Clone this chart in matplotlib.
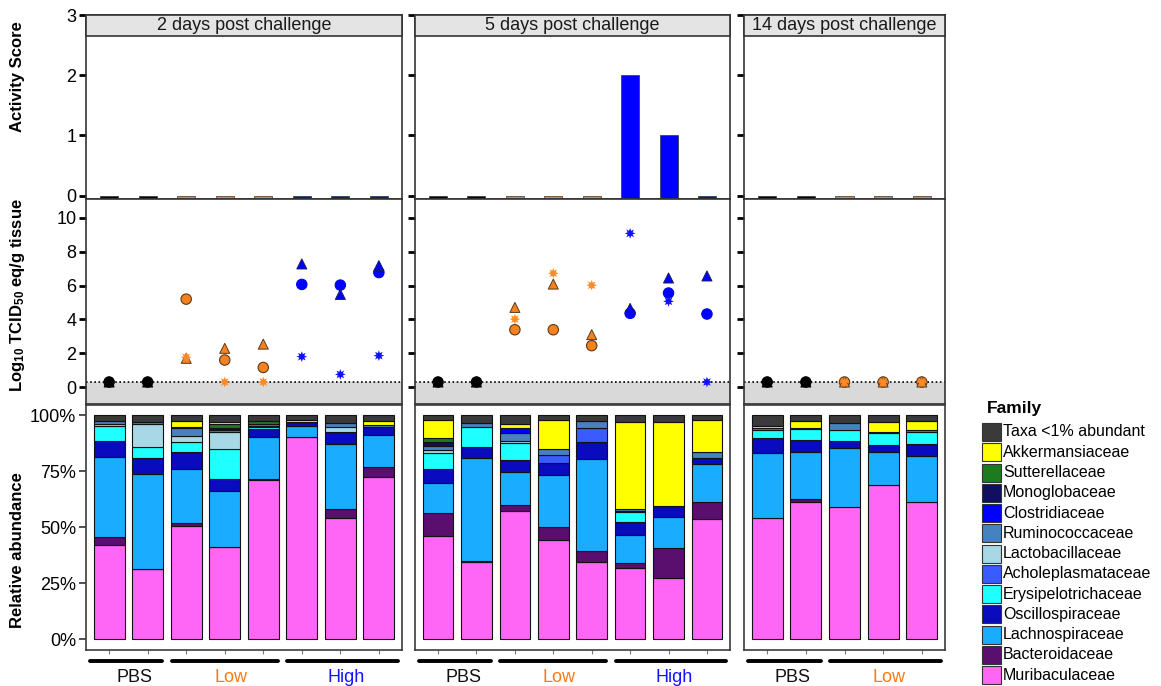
import matplotlib.pyplot as plt
import matplotlib.transforms as mtransforms
from matplotlib.patches import Rectangle
import numpy as np

plt.rcParams['font.family'] = ['Liberation Sans', 'DejaVu Sans']
plt.rcParams['mathtext.default'] = 'regular'

W, H = 1161, 686

# ---------------- data ----------------
day_titles = ['2 days post challenge', '5 days post challenge', '14 days post challenge']
groups_d2 = ['PBS', 'PBS', 'Low', 'Low', 'Low', 'High', 'High', 'High']
groups_d5 = ['PBS', 'PBS', 'Low', 'Low', 'Low', 'High', 'High', 'High']
groups_d14 = ['PBS', 'PBS', 'Low', 'Low', 'Low']

# activity score
score_d2 = [0, 0, 0, 0, 0, 0, 0, 0]
score_d5 = [0, 0, 0, 0, 0, 2, 1, 0]
score_d14 = [0, 0, 0, 0, 0]

# log10 TCID50 eq/g tissue, one list per tissue (marker)
lod = 0.3
circle_d2 = [0.3, 0.3, 5.2, 1.6, 1.16, 6.07, 6.03, 6.77]
triangle_d2 = [0.3, 0.3, 1.7, 2.29, 2.54, 7.28, 5.48, 7.18]
star_d2 = [0.3, 0.3, 1.76, 0.3, 0.3, 1.8, 0.75, 1.86]
circle_d5 = [0.3, 0.3, 3.39, 3.39, 2.45, 4.36, 5.56, 4.32]
triangle_d5 = [0.3, 0.3, 4.71, 6.09, 3.1, 4.65, 6.45, 6.57]
star_d5 = [0.3, 0.3, 4.02, 6.73, 6.02, 9.09, 5.07, 0.3]
circle_d14 = [0.3, 0.3, 0.3, 0.3, 0.3]
triangle_d14 = [0.3, 0.3, 0.3, 0.3, 0.3]
star_d14 = [0.3, 0.3, 0.3, 0.3, 0.3]

# relative abundance (%), rows bottom -> top of the stack
families = ['Muribaculaceae', 'Bacteroidaceae', 'Lachnospiraceae', 'Oscillospiraceae',
            'Erysipelotrichaceae', 'Acholeplasmataceae', 'Lactobacillaceae',
            'Ruminococcaceae', 'Clostridiaceae', 'Monoglobaceae', 'Sutterellaceae',
            'Akkermansiaceae', 'Taxa <1% abundant']
fam_colors = ['#FF66F5', '#5A0E6E', '#1AADFF', '#0A0ABE', '#20FFFF', '#3A5BFF',
              '#A8D8E6', '#4682C0', '#0000FF', '#10105E', '#1E7A1E', '#FFFF00', '#3A3A3A']

abund_d2 = np.array([
    [42.0, 31.1, 50.4, 40.9, 71.0, 90.0, 53.9, 72.5],
    [3.7, 0.3, 1.5, 0.3, 0.3, 0.3, 4.0, 4.4],
    [35.7, 42.3, 24.0, 24.9, 18.7, 4.9, 29.0, 14.2],
    [7.0, 7.2, 7.4, 5.2, 3.7, 1.5, 5.6, 3.5],
    [6.8, 4.7, 4.5, 13.4, 0.9, 0, 0, 0],
    [0, 0, 0, 0, 0, 0, 0, 0],
    [1.0, 10.2, 3.0, 7.6, 0.6, 0, 2.1, 0],
    [1.2, 1.3, 3.5, 1.0, 0.6, 0, 1.8, 1.0],
    [0, 0, 0, 0, 0, 0, 0, 0],
    [0, 0, 0, 0.8, 0, 0, 0, 0],
    [0, 0, 0.5, 1.8, 1.5, 0, 0, 0],
    [0, 0, 2.5, 1.0, 0, 1.0, 0, 1.6],
    [2.6, 2.9, 2.7, 3.1, 2.7, 2.3, 3.6, 2.8],
])
abund_d5 = np.array([
    [46.0, 34.5, 57.1, 44.2, 34.2, 31.8, 27.4, 53.4],
    [10.4, 0.3, 2.7, 5.9, 5.1, 2.0, 13.1, 7.9],
    [13.4, 45.9, 14.6, 23.1, 41.1, 12.6, 14.1, 16.7],
    [6.1, 5.1, 5.4, 5.5, 7.4, 5.7, 4.9, 2.7],
    [7.0, 9.0, 7.6, 0, 0, 4.5, 0, 0],
    [0, 0, 0, 3.4, 6.3, 0, 0, 0],
    [1.5, 0, 1.0, 0, 0, 0.5, 0, 0],
    [1.9, 1.5, 3.5, 2.6, 3.2, 0.8, 0, 2.6],
    [0, 0, 2.4, 0, 0, 0, 0, 0],
    [1.5, 0, 0, 0, 0, 0, 0, 0],
    [2.1, 0, 0, 0, 0, 0, 0, 0],
    [7.9, 0, 1.8, 13.1, 0, 38.8, 37.2, 14.5],
    [2.2, 3.7, 3.9, 2.2, 2.7, 3.3, 3.3, 2.2],
])
abund_d14 = np.array([
    [53.9, 61.0, 59.1, 68.7, 61.3],
    [0, 1.5, 0, 0, 0],
    [29.3, 20.8, 26.3, 14.6, 20.4],
    [6.4, 5.5, 3.0, 3.3, 5.4],
    [3.7, 4.8, 4.9, 5.2, 5.4],
    [0, 0, 0, 0, 0],
    [0, 0, 0, 0, 0],
    [1.0, 0.8, 3.3, 0.8, 1.0],
    [0, 0, 0, 0, 0],
    [0, 0, 0, 0, 0],
    [0, 0, 0, 0, 0],
    [1.0, 2.8, 0, 4.4, 3.7],
    [4.7, 2.8, 3.4, 3.0, 2.8],
])

group_color = {'PBS': '#000000', 'Low': '#F5821F', 'High': '#0000FF'}
star_color = {'PBS': '#000000', 'Low': '#FF8A26', 'High': '#1010FF'}
label_color = {'PBS': '#111111', 'Low': '#FF7A12', 'High': '#1414FF'}


def rect(l, t, r, b):
    return [l / W, 1 - b / H, (r - l) / W, (b - t) / H]


cols = [(86, 402), (415, 730), (744, 945)]
rows = [(15, 199), (199, 404), (405, 650)]

fig = plt.figure(figsize=(W / 100, H / 100), dpi=100)

scores = [score_d2, score_d5, score_d14]
circles = [circle_d2, circle_d5, circle_d14]
triangles = [triangle_d2, triangle_d5, triangle_d14]
stars = [star_d2, star_d5, star_d14]
abunds = [abund_d2, abund_d5, abund_d14]
groups_all = [groups_d2, groups_d5, groups_d14]

floor = -0.055
for k in range(3):
    groups = groups_all[k]
    n = len(groups)
    x = np.arange(1, n + 1)
    cl = [group_color[g] for g in groups]
    l, r = cols[k]

    # ---- activity score ----
    ax = fig.add_axes(rect(l, rows[0][0], r, rows[0][1]))
    sc = np.array(scores[k], dtype=float)
    ax.bar(x, sc - floor, bottom=floor, width=0.47, color=cl, edgecolor='#333333',
           linewidth=0.5)
    ax.set_xlim(0.4, n + 0.6)
    ax.set_ylim(floor, 3)
    ax.set_yticks([0, 1, 2, 3])
    ax.set_xticks([])
    ax.tick_params(axis='y', length=5, width=2, color='black', labelsize=13, pad=2,
                   labelleft=(k == 0))
    for s in ax.spines.values():
        s.set_linewidth(1.2)
        s.set_color('#333333')
    sy = (rows[0][1] - 36) / (rows[0][1] - rows[0][0])
    ax.add_patch(Rectangle((0, sy), 1, 1 - sy, transform=ax.transAxes, facecolor='#E4E4E4',
                           edgecolor='#333333', linewidth=1.2, clip_on=False, zorder=3))
    ax.text(0.5, (sy + 1) / 2, day_titles[k], transform=ax.transAxes, ha='center', va='center',
            fontsize=13, color='#1a1a1a', zorder=4)

    # ---- viral load ----
    ax = fig.add_axes(rect(l, rows[1][0], r, rows[1][1]))
    ax.axhspan(-1, lod, color='#D9D9D9', zorder=0, linewidth=0)
    ax.axhline(lod, color='black', linestyle=(0, (1, 1.5)), linewidth=1.2, zorder=1)
    ax.scatter(x, circles[k], s=56, marker='o', c=cl,
               edgecolors=['#5a3a1a' if g == 'Low' else group_color[g] for g in groups],
               linewidths=0.8, zorder=3)
    ax.scatter(x, triangles[k], s=52, marker='^', c=cl,
               edgecolors=['#5a3a1a' if g == 'Low' else '#1a1a60' if g == 'High' else 'black'
                           for g in groups], linewidths=0.7, zorder=3)
    ax.scatter(x, stars[k], s=60, marker=(8, 1, 0), c=[star_color[g] for g in groups],
               linewidths=0, zorder=4)
    ax.set_xlim(0.4, n + 0.6)
    ax.set_ylim(-1, 11.12)
    ax.set_yticks([0, 2, 4, 6, 8, 10])
    ax.set_xticks([])
    ax.tick_params(axis='y', length=5, width=2, color='black', labelsize=13, pad=2,
                   labelleft=(k == 0))
    for s in ax.spines.values():
        s.set_linewidth(1.2)
        s.set_color('#333333')

    # ---- relative abundance ----
    ax = fig.add_axes(rect(l, rows[2][0], r, rows[2][1]))
    tab = abunds[k]
    cum = np.zeros(n)
    for fam, col, vals in zip(families, fam_colors, tab):
        m = vals > 0
        ax.bar(x[m], vals[m], bottom=cum[m], width=0.8, color=col, edgecolor='#111111',
               linewidth=0.8, label=fam)
        cum = cum + vals
    ax.set_xlim(0.4, n + 0.6)
    ax.set_ylim(-4.9, 104.5)
    ax.set_yticks([0, 25, 50, 75, 100])
    ax.set_yticklabels(['0%', '25%', '50%', '75%', '100%'])
    ax.set_xticks(x)
    ax.tick_params(axis='x', length=3, width=0.8, color='#777777', labelbottom=False)
    ax.tick_params(axis='y', length=5, width=1.2, color='#333333', labelsize=13, pad=2,
                   labelleft=(k == 0), left=(k == 0))
    for s in ax.spines.values():
        s.set_linewidth(1.2)
        s.set_color('#3c3c3c')

    # group bars + labels under the panel
    trans = mtransforms.blended_transform_factory(ax.transData, ax.transAxes)
    names = []
    for g in groups:
        if g not in names:
            names.append(g)
    for gi, g in enumerate(names):
        idx = [i + 1 for i, gg in enumerate(groups) if gg == g]
        x0 = 0.5 if idx[0] == 1 else idx[0] - 0.5 + 0.12
        x1 = n + 0.5 if idx[-1] == n else idx[-1] + 0.5 - 0.12
        ax.plot([x0, x1], [-0.045, -0.045], transform=trans, color='black', linewidth=2.8,
                solid_capstyle='round', clip_on=False)
        ax.text((idx[0] + idx[-1]) / 2 + 0.15, -0.112, g, transform=trans, ha='center',
                va='center', fontsize=13, color=label_color[g])

# y labels
fig.text(18 / W, 1 - 77 / H, 'Activity Score', rotation=90, ha='center', va='center',
         fontsize=12, fontweight='bold')
fig.text(18 / W, 1 - 295 / H, 'Log$_{10}$ TCID$_{50}$ eq/g tissue', rotation=90, ha='center',
         va='center', fontsize=12, fontweight='bold')
fig.text(18 / W, 1 - 550 / H, 'Relative abundance', rotation=90, ha='center', va='center',
         fontsize=12, fontweight='bold')

# legend (top of stack first)
fig.text(987 / W, 1 - 409 / H, 'Family', ha='left', va='center', fontsize=12.5,
         fontweight='bold')
for i, (fam, col) in enumerate(zip(families[::-1], fam_colors[::-1])):
    yc = 432 + i * 20.25
    fig.add_artist(Rectangle((982 / W, 1 - (yc + 9) / H), 19 / W, 18 / H,
                             transform=fig.transFigure, facecolor=col,
                             edgecolor='#333333', linewidth=0.8))
    fig.text(1003 / W, 1 - yc / H, fam, ha='left', va='center', fontsize=11.5)

fig.savefig('out.png', dpi=100)
